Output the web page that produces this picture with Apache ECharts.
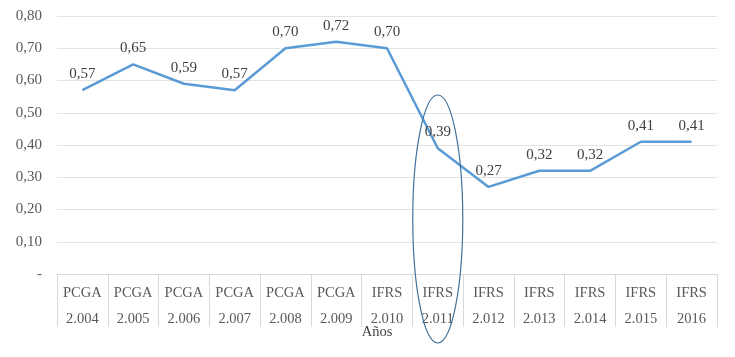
<!DOCTYPE html>
<html>
<head>
<meta charset="utf-8">
<script src="https://cdn.jsdelivr.net/npm/echarts@6/dist/echarts.min.js"></script>
<style>html,body{margin:0;padding:0;background:#fff}#c{width:735px;height:357px}</style>
</head>
<body>
<div id="c"></div>
<script>
var standards = ['PCGA','PCGA','PCGA','PCGA','PCGA','PCGA','IFRS','IFRS','IFRS','IFRS','IFRS','IFRS','IFRS'];
var years = ['2.004','2.005','2.006','2.007','2.008','2.009','2.010','2.011','2.012','2.013','2.014','2.015','2016'];
var values = [0.57,0.65,0.59,0.57,0.70,0.72,0.70,0.39,0.27,0.32,0.32,0.41,0.41];
var yTicks = [0,0.1,0.2,0.3,0.4,0.5,0.6,0.7,0.8];
var axisTitle = 'Años';
var highlightIndex = 7;

var categories = standards.map(function(s,i){ return s + '\n' + years[i]; });
var font = '"Liberation Serif", "Times New Roman", serif';
var chart = echarts.init(document.getElementById('c'));
chart.setOption({
  animation: false,
  grid: {left: 57, right: 18, top: 16, bottom: 83, containLabel: false},
  xAxis: {
    type: 'category',
    data: categories,
    boundaryGap: true,
    axisLine: {show: true, lineStyle: {color: '#d9d9d9', width: 1}},
    axisTick: {show: true, length: 53, lineStyle: {color: '#d9d9d9', width: 1}},
    axisLabel: {color: '#595959', fontFamily: font, fontSize: 14.5, lineHeight: 26, margin: 6, interval: 0},
    name: axisTitle,
    nameLocation: 'middle',
    nameGap: 51,
    nameMoveOverlap: false,
    nameTextStyle: {color: '#404040', fontFamily: font, fontSize: 14.5, verticalAlign: 'top', padding: [0, 20, 0, 0]}
  },
  yAxis: {
    type: 'value',
    min: yTicks[0],
    max: yTicks[yTicks.length - 1],
    interval: 0.1,
    axisLine: {show: false},
    axisTick: {show: false},
    splitLine: {lineStyle: {color: '#e3e3e3', width: 1}},
    axisLabel: {
      color: '#595959', fontFamily: font, fontSize: 15, margin: 15,
      formatter: function(v){ return Math.abs(v) < 1e-9 ? '-' : v.toFixed(2).replace('.', ','); }
    }
  },
  series: [{
    type: 'line',
    data: values,
    symbol: 'circle',
    symbolSize: 1,
    showSymbol: true,
    itemStyle: {color: 'rgba(0,0,0,0)', borderWidth: 0},
    lineStyle: {color: '#5B9BD5', width: 2.5},
    label: {
      show: true, position: 'top', distance: 8,
      color: '#404040', fontFamily: font, fontSize: 15,
      formatter: function(p){ return p.value.toFixed(2).replace('.', ','); }
    }
  }]
});
var cx = chart.convertToPixel({xAxisIndex: 0}, highlightIndex);
chart.setOption({
  graphic: [{
    type: 'ellipse',
    shape: {cx: cx, cy: 219, rx: 25, ry: 124},
    style: {fill: null, stroke: '#41719C', lineWidth: 1.2},
    z: 100
  }]
});
</script>
</body>
</html>
